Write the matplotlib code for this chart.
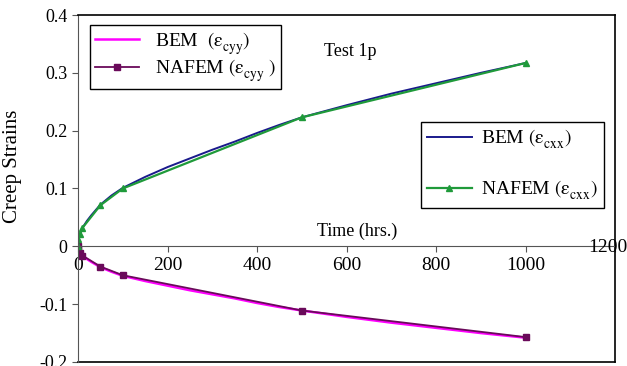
import numpy as np
import matplotlib.pyplot as plt

plt.rcParams['font.family'] = ['Liberation Serif', 'DejaVu Serif']
plt.rcParams['mathtext.fontset'] = 'stix'

# BEM curves (smooth)
t_bem = [0, 1, 2, 5, 10, 20, 30, 50, 75, 100, 150, 200, 250, 300, 350, 400,
         450, 500, 600, 700, 800, 900, 1000]
bem_cxx = [0, 0.010, 0.014, 0.022, 0.032, 0.044, 0.054, 0.072, 0.088, 0.101,
           0.120, 0.137, 0.152, 0.167, 0.181, 0.196, 0.210, 0.223, 0.244,
           0.264, 0.282, 0.300, 0.317]
bem_cyy = [0, -0.005, -0.007, -0.011, -0.016, -0.022, -0.027, -0.036, -0.044,
           -0.051, -0.060, -0.068, -0.076, -0.083, -0.090, -0.098, -0.105,
           -0.111, -0.122, -0.132, -0.141, -0.150, -0.158]

# NAFEM points (markers)
t_naf = [0, 1, 5, 10, 50, 100, 500, 1000]
naf_cxx = [0, 0.012, 0.022, 0.032, 0.071, 0.100, 0.223, 0.317]
naf_cyy = [0, -0.005, -0.011, -0.016, -0.035, -0.050, -0.111, -0.157]

xticks = [0, 200, 400, 600, 800, 1000, 1200]
yticks = [-0.2, -0.1, 0, 0.1, 0.2, 0.3, 0.4]

fig = plt.figure(figsize=(6.27, 3.66), dpi=100)
ax = fig.add_axes([0.1244, 0.011, 0.8566, 0.948])

l1, = ax.plot(t_bem, bem_cyy, color='#ff00ff', lw=1.8,
              label=r'BEM  $\left(\mathrm{\varepsilon}_{\rm cyy}^{\ }\right)$')
l2, = ax.plot(t_naf, naf_cyy, color='#6a0a5a', lw=1.3, marker='s', ms=4,
              label=r'NAFEM $\left(\mathrm{\varepsilon}_{\rm cyy}^{\ }\ \right)$')
l3, = ax.plot(t_bem, bem_cxx, color='#1a1a8c', lw=1.4,
              label=r'BEM $\left(\mathrm{\varepsilon}_{\rm cxx}^{\ }\right)$')
l4, = ax.plot(t_naf, naf_cxx, color='#1f9a3a', lw=1.6, marker='^', ms=5,
              label=r'NAFEM $\left(\mathrm{\varepsilon}_{\rm cxx}^{\ }\right)$')

ax.set_xlim(0, 1200)
ax.set_ylim(-0.2, 0.4)
ax.set_xticks(xticks)
ax.set_xticklabels(['0', '200', '400', '600', '800', '1000', ''])
ax.set_yticks(yticks)
ax.set_yticklabels(['-0.2', '-0.1', '0', '0.1', '0.2', '0.3', '0.4'])
ax.tick_params(axis='x', direction='out', length=4, labelsize=14, color='#555555')
ax.tick_params(axis='y', direction='out', length=4, labelsize=13, color='#555555')
ax.text(1184, -0.002, '1200', fontsize=14, ha='center', va='center', clip_on=False)

# x axis sits at zero, frame kept all around
ax.spines['bottom'].set_position(('data', 0))
ax.spines['bottom'].set_color('#555555')
ax.spines['left'].set_color('#555555')
ax.axhline(-0.2, color='black', lw=1.2, clip_on=False)
for s in ['top', 'right']:
    ax.spines[s].set_color('black')
    ax.spines[s].set_linewidth(1.2)

ax.set_ylabel('Creep Strains', fontsize=15)
ax.yaxis.set_label_coords(-0.105, 0.565)

ax.text(608, 0.337, 'Test 1p', fontsize=13, ha='center', va='center')
ax.text(623, 0.026, 'Time (hrs.)', fontsize=13, ha='center', va='center')

leg1 = ax.legend(handles=[l1, l2], loc='upper left', bbox_to_anchor=(0.022, 0.971),
                 borderaxespad=0, fontsize=14, fancybox=False, edgecolor='black',
                 framealpha=1, handlelength=2.3, labelspacing=0.05, borderpad=0.25)
leg1.get_frame().set_linewidth(1.0)
ax.add_artist(leg1)
leg2 = ax.legend(handles=[l3, l4], loc='upper left', bbox_to_anchor=(0.639, 0.692),
                 borderaxespad=0, fontsize=14, fancybox=False, edgecolor='black',
                 framealpha=1, handlelength=2.3, labelspacing=1.4, borderpad=0.3,
                 handletextpad=0.5)
leg2.get_frame().set_linewidth(1.0)

fig.savefig('out.png', dpi=100)
